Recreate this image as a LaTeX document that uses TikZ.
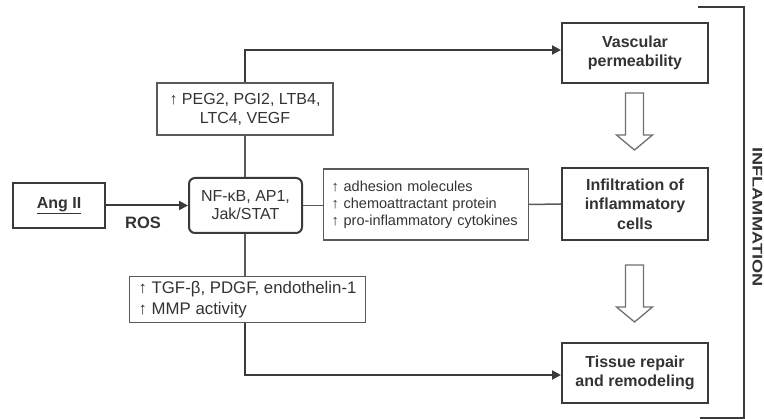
\documentclass[tikz,border=0pt]{standalone}
\usepackage{fontspec}
\setmainfont{Liberation Sans}
\usetikzlibrary{arrows.meta,calc}
\definecolor{txt}{HTML}{333333}
\definecolor{ln}{HTML}{3A3A3A}
\definecolor{thin}{HTML}{5A5A5A}
\definecolor{hollow}{HTML}{707070}
\begin{document}
\begin{tikzpicture}[x=1pt,y=-1pt,
  titlebox/.style={draw=ln, line width=2pt, text=txt, inner sep=0pt, align=center,
    font=\fontsize{16}{19.5}\selectfont\bfseries},
  infobox/.style={draw=thin, line width=1.2pt, text=txt, inner sep=0pt,
    font=\fontsize{16}{20}\selectfont},
  conn/.style={draw=thin, line width=1.5pt},
  mainarrow/.style={draw=ln, line width=2pt, -{Triangle[length=9pt,width=9pt]}},
  hollowarrow/.style={draw=hollow, line width=1.3pt, fill=white, line join=miter}
]
\useasboundingbox (0,0) rectangle (764,419);

% outcome boxes
\node[titlebox, minimum width=146pt, minimum height=60pt] (vasc) at (635,53) {Vascular\\permeability};
\node[titlebox, minimum width=146pt, minimum height=72pt] (infl) at (635,204) {Infiltration of\\inflammatory\\cells};
\node[titlebox, minimum width=146pt, minimum height=60pt] (tiss) at (635,373) {Tissue repair\\and remodeling};

% left side
\node[titlebox, minimum width=92pt, minimum height=45pt, font=\fontsize{16}{19}\selectfont\bfseries] (ang) at (59,205.5) {\underline{Ang II}};
\node[titlebox, rounded corners=6pt, minimum width=113pt, minimum height=55pt,
  font=\fontsize{16}{18}\selectfont] (nf) at (245.5,205.5) {NF-κB, AP1,\\Jak/STAT};
\node[text=txt, font=\fontsize{16.5}{18}\selectfont\bfseries] (ros) at (143,223) {ROS};

% info boxes
\node[infobox, minimum width=176pt, minimum height=52pt, align=center,
  font=\fontsize{16}{19}\selectfont] (peg) at (245,109) {↑ PEG2, PGI2, LTB4,\\LTC4, VEGF};
\node[infobox, anchor=west, text width=189pt, inner xsep=8pt, minimum height=71pt, align=left,
  font=\fontsize{14.5}{17}\selectfont] (adh) at (323,204.5)
  {↑ adhesion molecules\\↑ chemoattractant protein\\↑ pro-inflammatory cytokines};
\node[infobox, anchor=north west, inner xsep=9pt, minimum height=46pt, align=left,
  font=\fontsize{16.8}{21}\selectfont] (tgf) at (129,276)
  {↑ TGF-β, PDGF, endothelin-1\\↑ MMP activity};

% connectors
\draw[mainarrow] (ang.east) -- (nf.west);
\draw[conn] (peg.south) -- (peg.south |- nf.north);
\draw[mainarrow] (peg.north) |- ([yshift=3pt]vasc.west);
\draw[conn] (nf.east) -- (nf.east -| adh.west);
\draw[conn] (adh.east) -- (infl.west);
\draw[conn] (tgf.north -| peg.south) -- (peg.south |- nf.south);
\draw[mainarrow] (tgf.south -| peg.south) |- ([yshift=-2pt]tiss.west);

% hollow arrows
\draw[hollowarrow] (625.5,93) -- (643.5,93) -- (643.5,135) -- (652.5,135) -- (634.5,150)
  -- (616.5,135) -- (625.5,135) -- cycle;
\draw[hollowarrow] (625.5,265) -- (643.5,265) -- (643.5,307) -- (652.5,307) -- (634.5,322)
  -- (616.5,307) -- (625.5,307) -- cycle;

% bracket
\coordinate (bt) at (698,7);
\coordinate (bb) at (700,418);
\draw[draw=ln, line width=2pt] (bt) -- (744,7) -- (744,418) -- (bb);
\node[text=txt, rotate=-90, xscale=1.3, font=\fontsize{14}{16}\selectfont\bfseries] (inflam) at (757.5,217) {INFLAMMATION};
\end{tikzpicture}
\end{document}
